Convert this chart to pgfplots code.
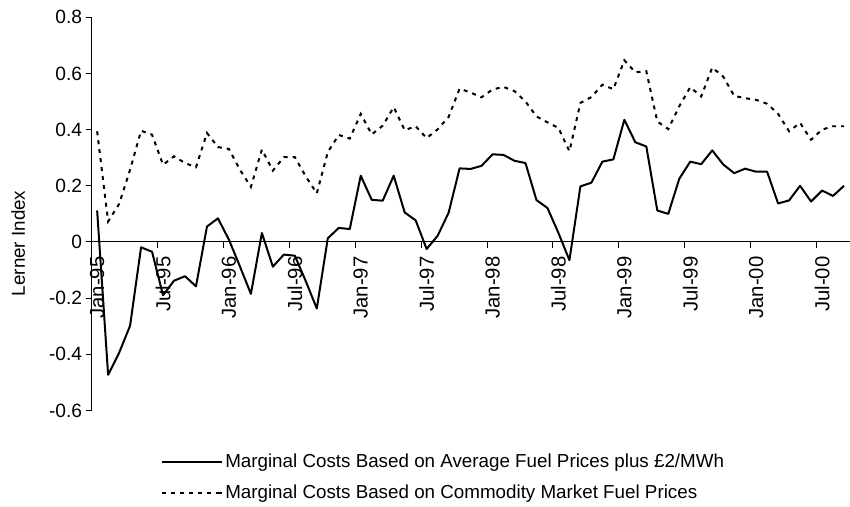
\documentclass[border=0pt]{standalone}
\usepackage{fontspec}
\setmainfont{Liberation Sans}
\usepackage{pgfplots}
\usepackage{pgfplotstable}
\pgfplotsset{compat=1.18}

% monthly Lerner index, Jan-95 (i=0) to Sep-00 (i=68)
\pgfplotstableread{
i avg comm
0 0.112 0.394
1 -0.473 0.073
2 -0.395 0.135
3 -0.298 0.257
4 -0.019 0.396
5 -0.035 0.382
6 -0.190 0.275
7 -0.138 0.305
8 -0.122 0.281
9 -0.158 0.266
10 0.055 0.388
11 0.084 0.338
12 0.008 0.331
13 -0.087 0.257
14 -0.185 0.196
15 0.032 0.329
16 -0.088 0.254
17 -0.045 0.302
18 -0.049 0.302
19 -0.140 0.233
20 -0.237 0.173
21 0.013 0.320
22 0.050 0.381
23 0.046 0.368
24 0.236 0.456
25 0.150 0.383
26 0.147 0.414
27 0.236 0.480
28 0.105 0.398
29 0.077 0.412
30 -0.025 0.370
31 0.022 0.401
32 0.104 0.445
33 0.262 0.546
34 0.260 0.532
35 0.271 0.515
36 0.312 0.543
37 0.310 0.552
38 0.289 0.537
39 0.281 0.500
40 0.149 0.447
41 0.121 0.426
42 0.032 0.406
43 -0.065 0.323
44 0.198 0.495
45 0.211 0.516
46 0.286 0.560
47 0.294 0.544
48 0.435 0.647
49 0.355 0.604
50 0.340 0.608
51 0.112 0.429
52 0.100 0.402
53 0.225 0.483
54 0.286 0.551
55 0.277 0.518
56 0.326 0.621
57 0.276 0.589
58 0.245 0.520
59 0.261 0.512
60 0.250 0.506
61 0.250 0.492
62 0.137 0.456
63 0.148 0.394
64 0.200 0.424
65 0.144 0.364
66 0.183 0.400
67 0.164 0.412
68 0.200 0.412
}\lerner

\begin{document}
\begin{tikzpicture}[font=\fontsize{18.8}{22}\selectfont]
\begin{axis}[
  at={(0pt,0pt)}, anchor=south west,
  scale only axis, width=758.3pt, height=393.4pt,
  xmin=-0.5, xmax=68.5, ymin=-0.6, ymax=0.8,
  axis x line=middle, axis y line=left,
  axis line style={-, line width=1pt},
  hide obscured x ticks=false, hide obscured y ticks=false,
  tick align=outside, major tick length=6pt,
  tick style={black, line width=1pt},
  xtick={-0.5,5.5,...,65.5}, xticklabels={},
  extra x ticks={0,6,...,66},
  extra x tick labels={Jan-95,Jul-95,Jan-96,Jul-96,Jan-97,Jul-97,Jan-98,Jul-98,Jan-99,Jul-99,Jan-00,Jul-00},
  extra x tick style={major tick length=0pt},
  x tick label style={rotate=90, anchor=east, xshift=-11pt,
                      font=\fontsize{20.3}{24}\selectfont},
  y tick label style={font=\fontsize{19.2}{23}\selectfont},
  ytick={-0.6,-0.4,-0.2,0,0.2,0.4,0.6,0.8},
  yticklabels={-0.6,-0.4,-0.2,0,0.2,0.4,0.6,0.8},
  ylabel={Lerner Index},
  ylabel style={at={(axis description cs:-0.097,0.425)}, anchor=center},
  legend cell align=left,
  legend style={at={(axis description cs:0.0877,-0.1)}, anchor=north west,
                draw=none, fill=none, row sep=12pt},
  legend image code/.code={\draw[#1] (0pt,0pt) -- (56pt,0pt);
                           \path (56pt,0pt) -- (60pt,0pt);},
]
\addplot[black, line width=2pt, line join=round] table[x=i, y=avg] {\lerner};
\addlegendentry{Marginal Costs Based on Average Fuel Prices plus £2/MWh}
\addplot[black, line width=2pt, dash pattern=on 4pt off 5pt] table[x=i, y=comm] {\lerner};
\addlegendentry{Marginal Costs Based on Commodity Market Fuel Prices}
\end{axis}
\path (-91.7pt,-96.3pt) rectangle (758.3pt,410.7pt);
\end{tikzpicture}
\end{document}
